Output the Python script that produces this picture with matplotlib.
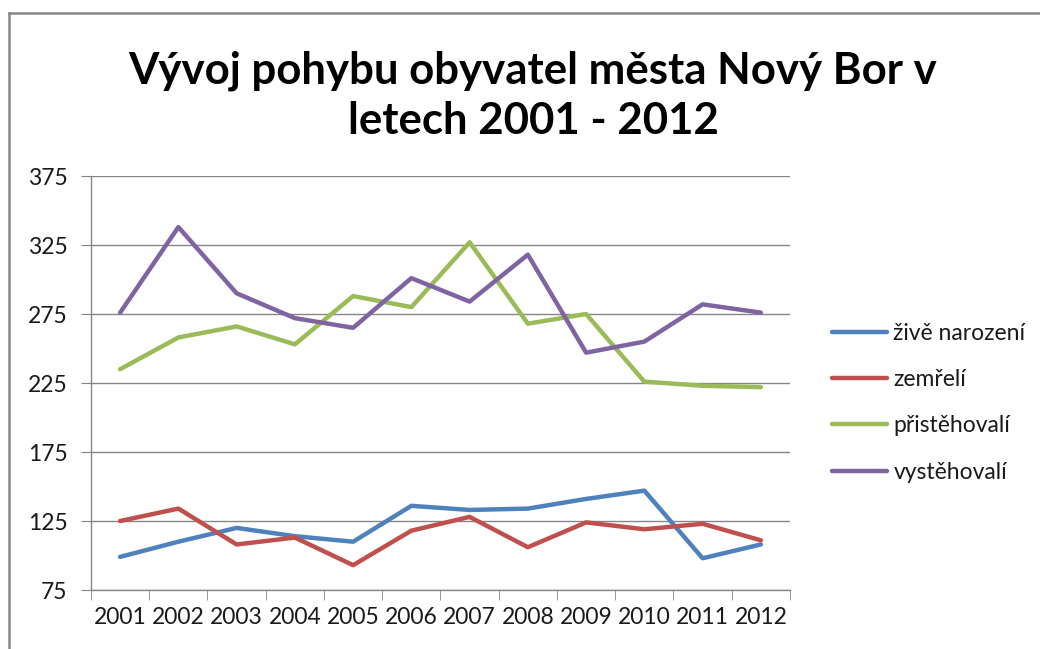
import matplotlib.pyplot as plt
from matplotlib.lines import Line2D

years = ["2001", "2002", "2003", "2004", "2005", "2006",
         "2007", "2008", "2009", "2010", "2011", "2012"]
zive_narozeni = [99, 110, 120, 114, 110, 136, 133, 134, 141, 147, 98, 108]
zemreli = [125, 134, 108, 113, 93, 118, 128, 106, 124, 119, 123, 111]
pristehovali = [235, 258, 266, 253, 288, 280, 327, 268, 275, 226, 223, 222]
vystehovali = [276, 338, 290, 272, 265, 301, 284, 318, 247, 255, 282, 276]

series_names = ["živě narození", "zemřelí", "přistěhovalí", "vystěhovalí"]
series_colors = ["#4F81BD", "#C0504D", "#9BBB59", "#8064A2"]

plt.rcParams['font.family'] = ['Lato', 'DejaVu Sans']

fig = plt.figure(figsize=(10.4, 6.49), dpi=100)
ax = fig.add_axes([0.0875, 0.0909, 0.6721, 0.6379])

x = list(range(len(years)))
for vals, name, col in zip([zive_narozeni, zemreli, pristehovali, vystehovali],
                           series_names, series_colors):
    ax.plot(x, vals, color=col, lw=3.2, label=name, solid_capstyle="round")

ax.set_xlim(-0.5, len(years) - 0.5)
ax.set_ylim(75, 375)
ax.set_yticks(range(75, 376, 50))
ax.yaxis.grid(True, color="#868686", lw=1)
ax.set_axisbelow(True)

# category labels centred, tick marks between categories (Excel style)
ax.set_xticks(x)
ax.set_xticklabels(years)
ax.set_xticks([i - 0.5 for i in range(len(years) + 1)], minor=True)
ax.tick_params(axis="x", which="major", length=0, pad=12, labelsize=16.5, colors="#1a1a1a")
ax.tick_params(axis="x", which="minor", length=7, color="#868686", direction="out")
ax.tick_params(axis="y", length=7, color="#868686", pad=10, labelsize=16.5, labelcolor="#1a1a1a")

for s in ["top", "right"]:
    ax.spines[s].set_visible(False)
for s in ["left", "bottom"]:
    ax.spines[s].set_color("#868686")
    ax.spines[s].set_linewidth(1)

ax.legend(loc="upper left", bbox_to_anchor=(1.03, 0.695), frameon=False,
          fontsize=16.5, handlelength=2.4, handletextpad=0.3, labelspacing=1.1,
          labelcolor="#1a1a1a")

fig.text(0.5125, 0.853, "Vývoj pohybu obyvatel města Nový Bor v\nletech 2001 - 2012",
         ha="center", va="center", fontsize=31.5, fontweight="bold",
         linespacing=1.3)

# chart border (partially cropped)
fig.add_artist(Line2D([9 / 1040, 1], [1 - 13 / 649, 1 - 13 / 649], color="#888888", lw=1.8))
fig.add_artist(Line2D([9 / 1040, 9 / 1040], [0, 1 - 13 / 649], color="#888888", lw=1.8))

fig.savefig("out.png", dpi=100)
